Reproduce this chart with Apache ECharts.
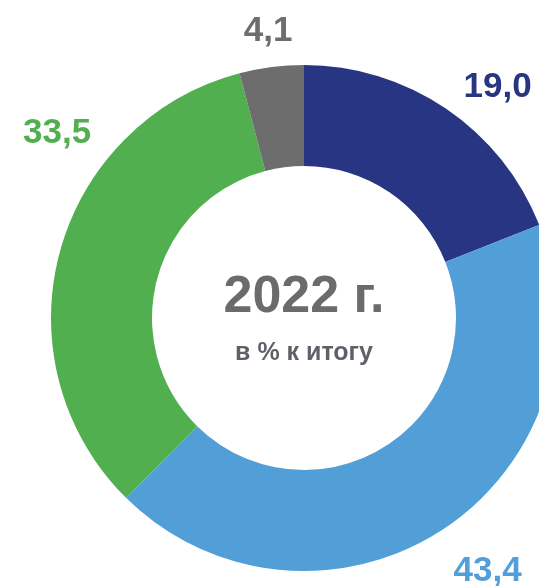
<!DOCTYPE html>
<html>
<head>
<meta charset="utf-8">
<script src="https://cdn.jsdelivr.net/npm/echarts@6/dist/echarts.min.js"></script>
<style>
html,body{margin:0;padding:0;background:#fff;}
#main{width:539px;height:586px;}
</style>
</head>
<body>
<div id="main"></div>
<script>
// Data
var categories = ['A', 'B', 'C', 'D'];
var shares = [19.0, 43.4, 33.5, 4.1];
var titleText = '2022 г.';
var subtitleText = 'в % к итогу';

// Styles / layout (kept separate from data)
var colors = ['#283583', '#529FD7', '#52AF50', '#6D6D6D'];
var FONT = '"Liberation Sans", Arial, sans-serif';
var CX = 304, CY = 318, R_IN = 152, R_OUT = 253;
// label placement: [angle clockwise from 12 o'clock in degrees, distance from centre in px]
var labelPolar = [[39.7, 303], [143.8, 311], [307.1, 309.5], [352.9, 290.7]];
var LABEL_DY = 2;

function fmt(v) { return v.toFixed(1).replace('.', ','); }

var chart = echarts.init(document.getElementById('main'), null, {renderer: 'canvas'});
chart.setOption({
  animation: false,
  backgroundColor: '#ffffff',
  title: {
    text: titleText,
    subtext: subtitleText,
    left: CX,
    top: 272,
    textAlign: 'center',
    padding: 0,
    itemGap: 17,
    textStyle: {fontFamily: FONT, fontSize: 52, fontWeight: 'bold', color: '#6B6B6B', lineHeight: 52},
    subtextStyle: {fontFamily: FONT, fontSize: 25, fontWeight: 'bold', color: '#5D6168', lineHeight: 25}
  },
  series: [{
    type: 'pie',
    center: [CX, CY],
    radius: [R_IN, R_OUT],
    startAngle: 90,
    clockwise: true,
    avoidLabelOverlap: false,
    label: {
      show: true,
      position: 'outside',
      fontFamily: FONT,
      fontSize: 35,
      fontWeight: 'bold',
      formatter: function (p) { return fmt(p.value); }
    },
    labelLine: {show: false},
    labelLayout: function (p) {
      var lp = labelPolar[p.dataIndex];
      var a = lp[0] * Math.PI / 180;
      return {
        x: CX + Math.sin(a) * lp[1],
        y: CY - Math.cos(a) * lp[1] + LABEL_DY,
        align: 'center',
        verticalAlign: 'middle'
      };
    },
    emphasis: {disabled: true},
    data: categories.map(function (c, i) {
      return {
        name: c,
        value: shares[i],
        itemStyle: {color: colors[i]},
        label: {color: colors[i]}
      };
    })
  }]
});
</script>
</body>
</html>
